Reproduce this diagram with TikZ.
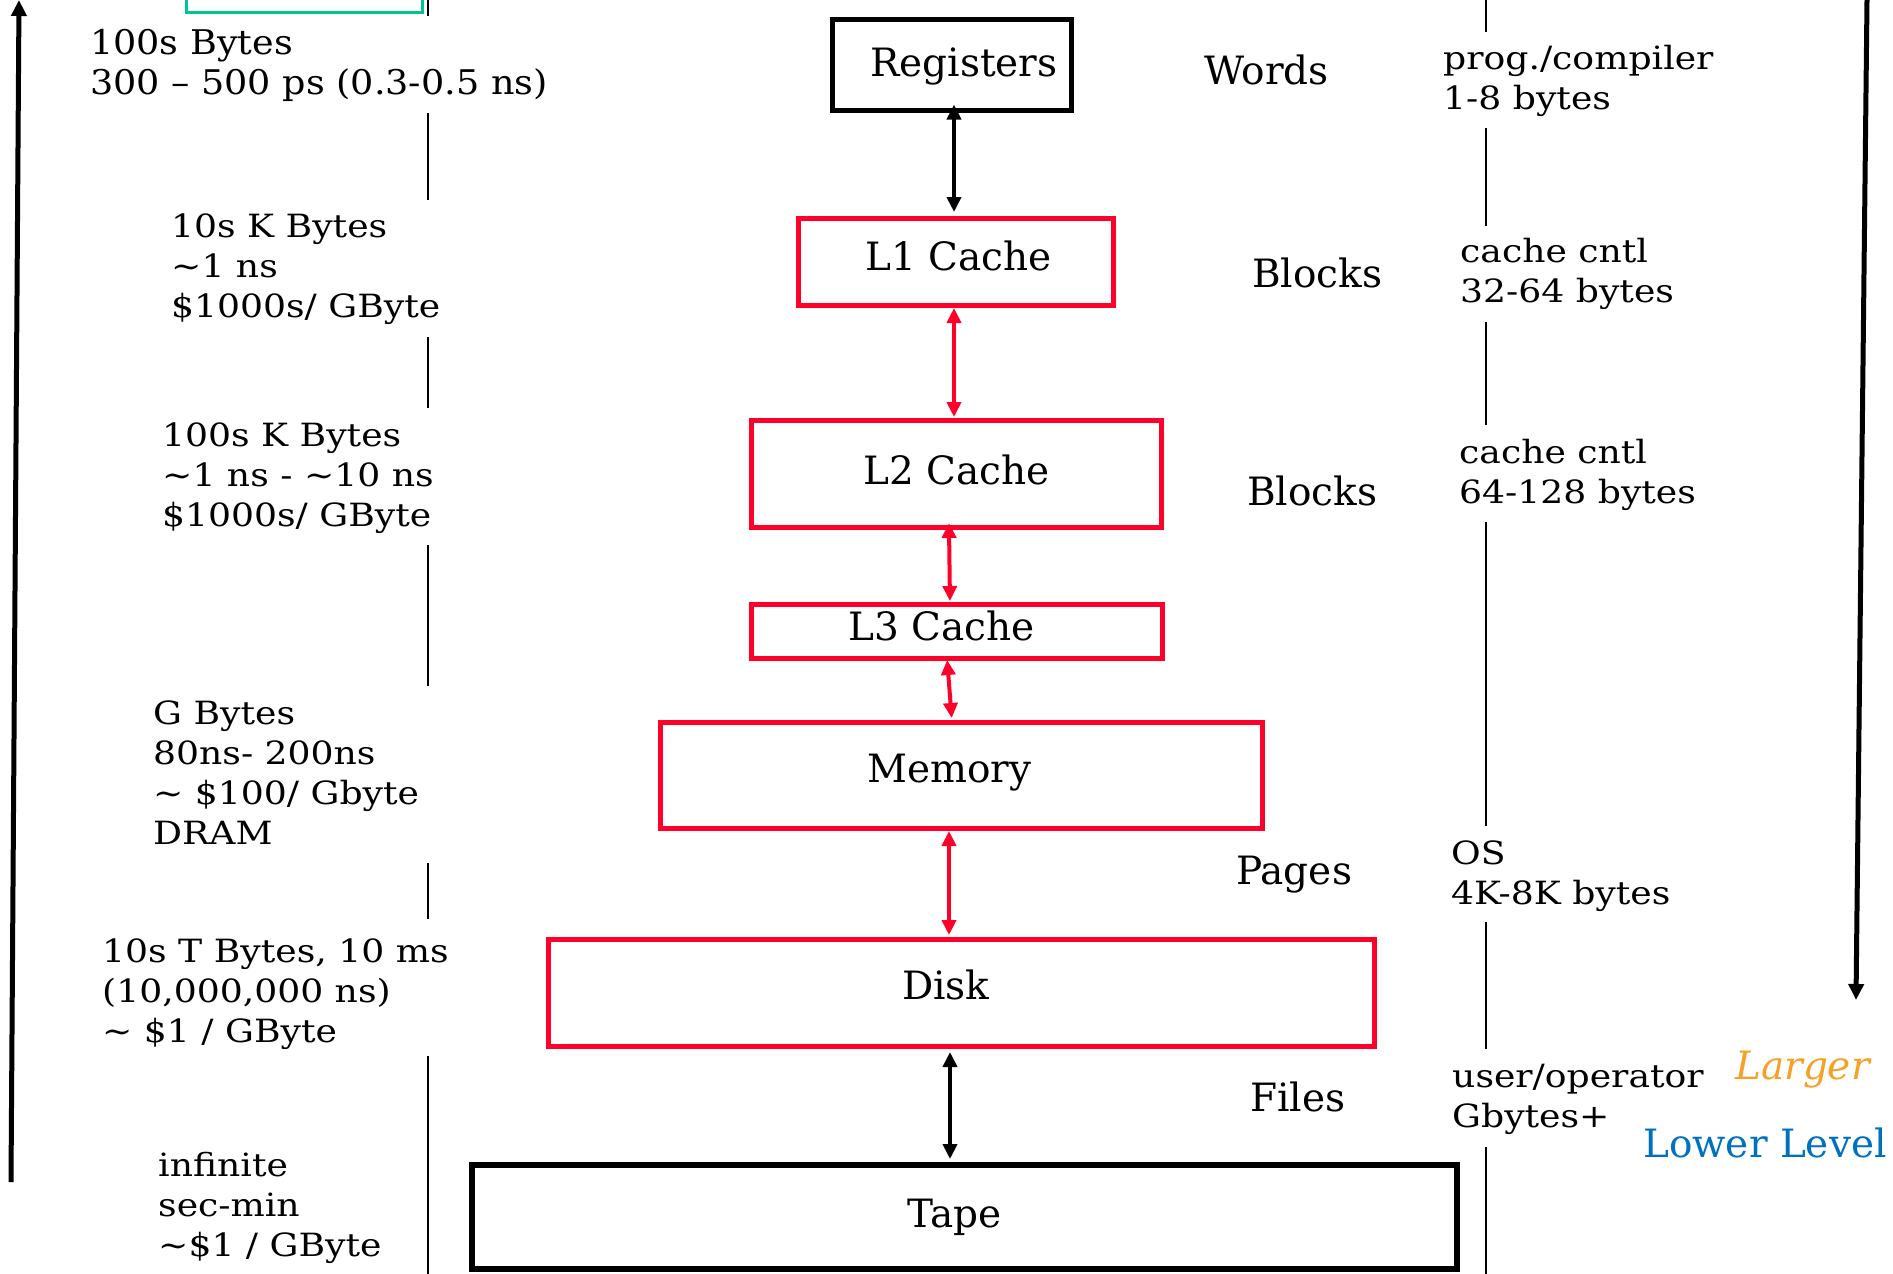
\documentclass[tikz,border=0pt]{standalone}
\usepackage{fontspec}
\setmainfont{DejaVu Serif}
% slightly widened faces for the annotation columns
\newfontfamily\widefont[FakeStretch=1.13]{DejaVu Serif}
\newfontfamily\headfont[FakeStretch=1.075]{DejaVu Serif}
\usetikzlibrary{arrows.meta}

\definecolor{hired}{RGB}{255,0,43}
\definecolor{tealline}{RGB}{0,196,150}
\definecolor{largeorange}{RGB}{246,160,40}
\definecolor{levelblue}{RGB}{0,112,192}

% left-aligned block of lines whose baseline is the first line
\newcommand{\stack}[1]{\begin{tabular}[t]{@{}l@{}}#1\end{tabular}}

\tikzset{
  blackbox/.style={draw=black, line width=5pt, inner sep=0pt, outer sep=0pt},
  redbox/.style={draw=hired, line width=5pt, inner sep=0pt, outer sep=0pt},
  boxlabel/.style={font=\fontsize{39}{46}\selectfont, inner sep=0pt, anchor=base west},
  unitlabel/.style={font=\fontsize{39}{46}\selectfont, inner sep=0pt, anchor=base west},
  sidetext/.style={font=\widefont\fontsize{32}{40}\selectfont, inner sep=0pt, anchor=base west},
  toptext/.style={font=\headfont\fontsize{34}{40}\selectfont, inner sep=0pt, anchor=base west},
  tip/.tip={Triangle[length=15pt,width=14pt]},
  blacklink/.style={draw=black, line width=4pt, tip-tip},
  redlink/.style={draw=hired, line width=4pt, tip-tip},
  divider/.style={draw=black, line width=2.5pt},
  trend/.style={draw=black, line width=5pt, -{Triangle[length=16pt,width=15pt]}}
}

\begin{document}
\begin{tikzpicture}[x=1pt, y=-1pt]
\useasboundingbox (0,0) rectangle (1893,1274);

% partly visible frame at the top edge
\draw[tealline, line width=3pt] (186,-40) rectangle (422,12);

% hierarchy boxes
\node[blackbox, minimum width=239pt, minimum height=91pt]  (reg)  at (952,65) {};
\node[redbox,   minimum width=315pt, minimum height=87pt]  (l1)   at (955.5,261.5) {};
\node[redbox,   minimum width=410pt, minimum height=107pt] (l2)   at (956,473.5) {};
\node[redbox,   minimum width=411pt, minimum height=54pt]  (l3)   at (956.5,631) {};
\node[redbox,   minimum width=602pt, minimum height=106pt] (mem)  at (961,775) {};
\node[redbox,   minimum width=826pt, minimum height=107pt] (disk) at (961,992.5) {};
\node[blackbox, line width=6pt, minimum width=985pt, minimum height=104pt] (tape) at (964.5,1217) {};

% box captions
\node[boxlabel] (regtxt)  at (870,76)   {Registers};
\node[boxlabel] (l1txt)   at (865,270)  {L1 Cache};
\node[boxlabel] (l2txt)   at (863,484)  {L2 Cache};
\node[boxlabel] (l3txt)   at (848,640)  {L3 Cache};
\node[boxlabel] (memtxt)  at (867,782)  {Memory};
\node[boxlabel] (disktxt) at (902,999)  {Disk};
\node[boxlabel] (tapetxt) at (907,1227) {Tape};

% transfers between levels
\draw[blacklink, shorten <=-6pt, shorten >=6pt] ([xshift=2pt]reg.south) -- ([xshift=-1.5pt]l1.north);
\draw[redlink, shorten <=3pt, shorten >=3pt] ([xshift=-1.5pt]l1.south) -- ([xshift=-2pt]l2.north);
\draw[redlink, shorten <=-4pt, shorten >=3pt] ([xshift=-7pt]l2.south) -- ([xshift=-6.5pt]l3.north);
\draw[redlink, shorten <=2pt, shorten >=4pt] ([xshift=-9.5pt]l3.south) -- ([xshift=-9pt]mem.north);
\draw[redlink, shorten <=3pt, shorten >=4pt] ([xshift=-12pt]mem.south) -- ([xshift=-12pt]disk.north);
\draw[blacklink, shorten <=6pt, shorten >=6pt] ([xshift=-11pt]disk.south) -- ([xshift=-14.5pt]tape.north);

% transfer units
\node[unitlabel] (words)   at (1204,84)   {Words};
\node[unitlabel] (blocks1) at (1252,287)  {Blocks};
\node[unitlabel] (blocks2) at (1247,505)  {Blocks};
\node[unitlabel] (pages)   at (1236,884)  {Pages};
\node[unitlabel] (files)   at (1250,1111) {Files};

% capacity, speed and cost
\node[toptext]  (cap0) at (90,54)    {\stack{100s Bytes\\300 \textendash{} 500 ps (0.3-0.5 ns)}};
\node[sidetext] (cap1) at (171,237)  {\stack{10s K Bytes\\\textasciitilde1 ns\\\$1000s/ GByte}};
\node[sidetext] (cap2) at (162,446)  {\stack{100s K Bytes\\\textasciitilde1 ns - \textasciitilde10 ns\\\$1000s/ GByte}};
\node[sidetext] (cap3) at (153,724)  {\stack{G Bytes\\80ns- 200ns\\\textasciitilde{} \$100/ Gbyte\\DRAM}};
\node[sidetext] (cap4) at (102,962)  {\stack{10s T Bytes, 10 ms\\(10,000,000 ns)\\\textasciitilde{} \$1 / GByte}};
\node[sidetext] (cap5) at (158,1176) {\stack{infinite\\sec-min\\\textasciitilde\$1 / GByte}};

% who manages each transfer
\node[sidetext] (mgr0) at (1443,69)   {\stack{prog./compiler\\1-8 bytes}};
\node[sidetext] (mgr1) at (1460,262)  {\stack{cache cntl\\32-64 bytes}};
\node[sidetext] (mgr2) at (1459,463)  {\stack{cache cntl\\64-128 bytes}};
\node[sidetext] (mgr3) at (1451,864)  {\stack{OS\\4K-8K bytes}};
\node[sidetext] (mgr4) at (1452,1087) {\stack{user/operator\\Gbytes+}};

\node[unitlabel, text=largeorange, font=\fontsize{39}{46}\selectfont\itshape] (larger) at (1735,1079) {Larger};
\node[unitlabel, text=levelblue] (lower) at (1643,1157) {Lower Level};

% column dividers
\foreach \a/\b in {0/16, 113/200, 337/408, 545/686, 863/919, 1056/1274}
  \draw[divider] (428,\a) -- (428,\b);
\foreach \a/\b in {0/32, 128/226, 322/425, 522/826, 922/1049, 1147/1274}
  \draw[divider] (1486,\a) -- (1486,\b);

% direction arrows at the sides
\coordinate (upfoot) at (11,1182);
\coordinate (uptip)  at (19,0);
\draw[trend] (upfoot) -- (uptip);
\coordinate (downtop) at (1867,0);
\coordinate (downtip) at (1856,1000);
\draw[trend] (downtop) -- (downtip);
\end{tikzpicture}
\end{document}
